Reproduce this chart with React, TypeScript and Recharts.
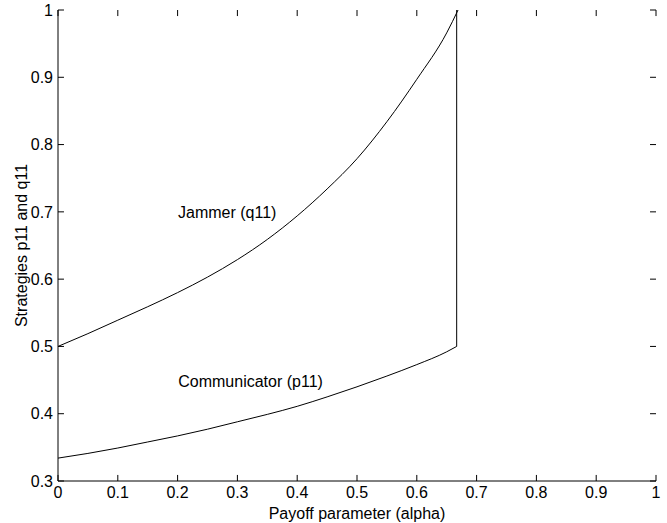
import { LineChart, Line, XAxis, YAxis, ReferenceDot, ReferenceLine } from "recharts";

// alpha values and strategies
const jammer = [
  { a: 0, v: 0.5 },
  { a: 0.05, v: 0.519 },
  { a: 0.1, v: 0.539 },
  { a: 0.15, v: 0.559 },
  { a: 0.2, v: 0.58 },
  { a: 0.25, v: 0.603 },
  { a: 0.3, v: 0.629 },
  { a: 0.35, v: 0.659 },
  { a: 0.4, v: 0.694 },
  { a: 0.45, v: 0.734 },
  { a: 0.5, v: 0.779 },
  { a: 0.55, v: 0.834 },
  { a: 0.6, v: 0.897 },
  { a: 0.65, v: 0.966 },
  { a: 0.669, v: 1 },
];

const communicator = [
  { a: 0, v: 0.334 },
  { a: 0.05, v: 0.341 },
  { a: 0.1, v: 0.349 },
  { a: 0.15, v: 0.358 },
  { a: 0.2, v: 0.367 },
  { a: 0.25, v: 0.377 },
  { a: 0.3, v: 0.388 },
  { a: 0.35, v: 0.399 },
  { a: 0.4, v: 0.411 },
  { a: 0.45, v: 0.425 },
  { a: 0.5, v: 0.44 },
  { a: 0.55, v: 0.456 },
  { a: 0.6, v: 0.473 },
  { a: 0.65, v: 0.492 },
  { a: 0.6667, v: 0.5 },
];

// communicator jumps to 1 at alpha = 2/3
const jump = [
  { a: 0.6667, v: 0.5 },
  { a: 0.6667, v: 1 },
];

const xTicks = [0, 0.1, 0.2, 0.3, 0.4, 0.5, 0.6, 0.7, 0.8, 0.9, 1];
const yTicks = [0.3, 0.4, 0.5, 0.6, 0.7, 0.8, 0.9, 1];

const notes = [
  { text: "Jammer (q11)", a: 0.283, v: 0.7 },
  { text: "Communicator (p11)", a: 0.322, v: 0.449 },
];

const font = "'Liberation Sans', Arial, Helvetica, sans-serif";
const fs = 16;
const tickText = { fontSize: fs, fontFamily: font, fill: "#000" };

// inward tick length, in data units (about 6px)
const tx = 0.01;
const ty = 0.009;

export default function App() {
  return (
    <div style={{ position: "absolute", left: 0, top: 0, background: "#fff" }}>
      <LineChart width={667} height={523} margin={{ top: 10, right: 11, bottom: 0, left: 0 }}>
        <XAxis
          dataKey="a"
          type="number"
          domain={[0, 1]}
          ticks={xTicks}
          height={42}
          tickSize={0}
          tickMargin={6}
          tickLine={false}
          tick={tickText}
          axisLine={{ stroke: "#000" }}
          label={{
            value: "Payoff parameter (alpha)",
            position: "insideBottom",
            offset: 4,
            style: tickText,
          }}
        />
        <XAxis
          xAxisId="top"
          orientation="top"
          dataKey="a"
          type="number"
          domain={[0, 1]}
          height={0}
          tickLine={false}
          tick={false}
          axisLine={{ stroke: "#555" }}
        />
        <YAxis
          type="number"
          domain={[0.3, 1]}
          ticks={yTicks}
          width={58}
          tickSize={0}
          tickMargin={5}
          tickLine={false}
          tick={tickText}
          axisLine={{ stroke: "#000" }}
          allowDataOverflow
          label={{
            value: "Strategies p11 and q11",
            angle: -90,
            position: "insideLeft",
            offset: 21,
            style: { ...tickText, textAnchor: "middle" },
          }}
        />
        <YAxis
          yAxisId="right"
          orientation="right"
          type="number"
          domain={[0.3, 1]}
          width={0}
          tickLine={false}
          tick={false}
          axisLine={{ stroke: "#000", strokeWidth: 1.5 }}
        />
        {xTicks.map((t) => (
          <ReferenceLine
            key={"b" + t}
            segment={[{ x: t, y: 0.3 }, { x: t, y: 0.3 + ty }]}
            stroke="#000"
            ifOverflow="visible"
          />
        ))}
        {xTicks.map((t) => (
          <ReferenceLine
            key={"t" + t}
            segment={[{ x: t, y: 1 }, { x: t, y: 1 - ty }]}
            stroke="#000"
            ifOverflow="visible"
          />
        ))}
        {yTicks.map((t) => (
          <ReferenceLine
            key={"l" + t}
            segment={[{ x: 0, y: t }, { x: tx, y: t }]}
            stroke="#000"
            ifOverflow="visible"
          />
        ))}
        {yTicks.map((t) => (
          <ReferenceLine
            key={"r" + t}
            segment={[{ x: 1, y: t }, { x: 1 - tx, y: t }]}
            stroke="#000"
            ifOverflow="visible"
          />
        ))}
        <Line
          data={jammer}
          dataKey="v"
          type="monotone"
          stroke="#000"
          strokeWidth={1}
          dot={false}
          isAnimationActive={false}
        />
        <Line
          data={communicator}
          dataKey="v"
          type="monotone"
          stroke="#000"
          strokeWidth={1}
          dot={false}
          isAnimationActive={false}
        />
        <Line
          data={jump}
          dataKey="v"
          type="linear"
          stroke="#000"
          strokeWidth={1}
          dot={false}
          isAnimationActive={false}
        />
        {notes.map((n) => (
          <ReferenceDot
            key={n.text}
            x={n.a}
            y={n.v}
            r={0}
            shape={(s: any) => (
              <text
                x={s.cx}
                y={s.cy}
                dy={6}
                textAnchor="middle"
                fontSize={fs}
                fontFamily={font}
                fill="#000"
              >
                {n.text}
              </text>
            )}
          />
        ))}
      </LineChart>
    </div>
  );
}
